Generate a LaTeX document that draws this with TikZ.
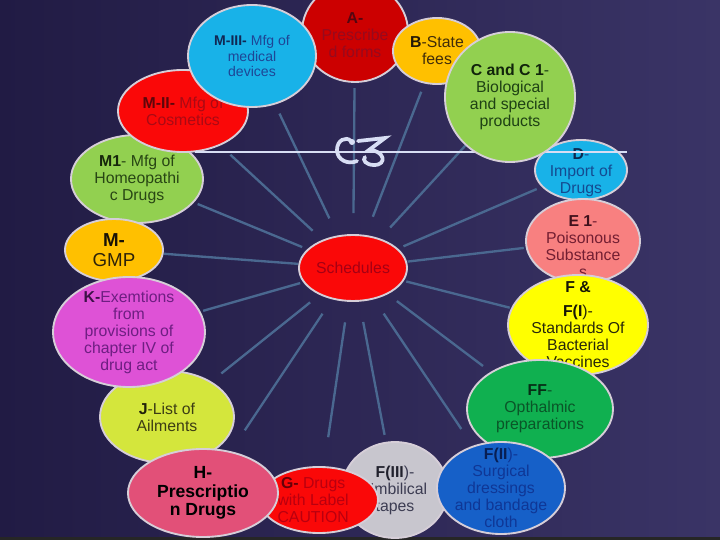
\documentclass[tikz,border=0pt]{standalone}
\usepackage{fontspec}
\setmainfont{Liberation Sans}
\usetikzlibrary{shapes.geometric, calc, backgrounds}
\definecolor{bgleft}{RGB}{33,27,68}
\definecolor{bgright}{RGB}{58,52,102}
\definecolor{spokeblue}{RGB}{74,104,144}
\definecolor{ruleline}{RGB}{216,222,244}
\definecolor{ringgray}{RGB}{214,206,216}
\definecolor{skycyan}{RGB}{24,178,232}
\definecolor{brightred}{RGB}{250,8,8}
\definecolor{deepred}{RGB}{204,0,0}
\definecolor{leafgreen}{RGB}{146,208,80}
\definecolor{amber}{RGB}{255,192,0}
\definecolor{orchid}{RGB}{222,82,214}
\definecolor{limey}{RGB}{212,230,60}
\definecolor{rosy}{RGB}{226,80,120}
\definecolor{silvery}{RGB}{200,198,206}
\definecolor{royal}{RGB}{22,96,200}
\definecolor{emerald}{RGB}{16,176,80}
\definecolor{lemon}{RGB}{255,255,0}
\definecolor{salmony}{RGB}{248,128,128}
\definecolor{txtA}{RGB}{150,10,30}
\definecolor{txtMthree}{RGB}{30,70,150}
\definecolor{txtMtwo}{RGB}{170,10,20}
\definecolor{txtMone}{RGB}{40,70,20}
\definecolor{txtGmp}{RGB}{45,35,10}
\definecolor{txtK}{RGB}{110,30,130}
\definecolor{txtJ}{RGB}{60,60,20}
\definecolor{txtG}{RGB}{185,0,15}
\definecolor{txtFthree}{RGB}{60,60,82}
\definecolor{txtFtwo}{RGB}{15,55,150}
\definecolor{txtFF}{RGB}{10,85,40}
\definecolor{txtFone}{RGB}{40,40,10}
\definecolor{txtE}{RGB}{115,30,50}
\definecolor{txtD}{RGB}{20,75,145}
\definecolor{txtC}{RGB}{30,65,20}
\definecolor{txtB}{RGB}{65,45,10}
\definecolor{txtSched}{RGB}{165,0,20}
\newcommand{\hd}[1]{{\bfseries\color{.!55!black}#1}}

\begin{document}
\begin{tikzpicture}[
    x=0.03cm, y=-0.03cm,
    disc/.style 2 args={
        ellipse, draw=ringgray, line width=1.6pt,
        inner sep=0pt,
        minimum width=#1*0.8536pt,
        minimum height=#2*0.8536pt
    },
    lbl/.style={
        font=\fontsize{13.5}{14.5}\selectfont,
        align=center, inner sep=0pt
    },
    spoke/.style={draw=spokeblue, line width=2pt},
    ornament/.style={draw=ruleline, line width=3.2pt, line cap=round}
]
\useasboundingbox (0,0) rectangle (720,540);

\node[disc={132}{88}, fill=leafgreen,
    label={[lbl, text=txtMone]center:{\hd{M1}- Mfg of\\Homeopathi\\c Drugs}}]
    (m1) at (137,179) {};
\node[disc={98}{62}, fill=amber,
    label={[lbl, text=txtGmp, font=\fontsize{16}{17}\selectfont]center:{\hd{M-}\\GMP}}]
    (mgmp) at (114,250) {};
\node[disc={134}{92}, fill=limey,
    label={[lbl, text=txtJ]center:{\hd{J}-List of\\Ailments}}]
    (j) at (167,417) {};
\node[disc={152}{110}, fill=orchid,
    label={[lbl, text=txtK]center:{\hd{K-}Exemtions\\from\\provisions of\\chapter IV of\\drug act}}]
    (k) at (129,332) {};
\node[disc={106}{100}, fill=deepred,
    label={[lbl, text=txtA, yshift=-2.5pt]center:{\hd{A-}\\Prescribe\\d forms}}]
    (a) at (355,32) {};
\node[disc={130}{82}, fill=brightred,
    label={[lbl, text=txtMtwo]center:{\hd{M-II-} Mfg of\\Cosmetics}}]
    (m2) at (183,111) {};
\node[disc={128}{102}, fill=skycyan,
    label={[lbl, text=txtMthree, font=\fontsize{12}{13.2}\selectfont]center:{\hd{M-III-} Mfg of\\medical\\devices}}]
    (m3) at (252,56) {};
\node[disc={88}{66}, fill=amber,
    label={[lbl, text=txtB]center:{\hd{B}-State\\fees}}]
    (b) at (437,51) {};
\node[disc={92}{60}, fill=skycyan,
    label={[lbl, text=txtD, yshift=-2.5pt]center:{\hd{D}-\\Import of\\Drugs}}]
    (d) at (581,170) {};

\draw[draw=ruleline, line width=1.6pt] (195,152) -- (627,152);
\draw[ornament] (351,141) .. controls (346,136) and (337,140) .. (337,150)
    .. controls (337,160) and (348,165) .. (357,161);
\fill[ruleline] (352,142) circle (3);
\draw[ornament] (358,141) -- (385,138) -- (369,150)
    .. controls (384,150) and (388,165) .. (374,165)
    .. controls (366,165) and (362,160) .. (365,157);

\node[disc={130}{130}, fill=leafgreen,
    label={[lbl, text=txtC]center:{\hd{C and C 1}-\\Biological\\and special\\products}}]
    (c) at (510,97) {};
\node[disc={114}{84}, fill=salmony,
    label={[lbl, text=txtE, yshift=-5pt]center:{\hd{E 1}-\\Poisonous\\Substance\\s}}]
    (e1) at (583,241) {};
\node[disc={140}{100}, fill=lemon,
    label={[lbl, text=txtFone]center:{\hd{F \&}\\[6pt]\hd{F(I})-\\Standards Of\\Bacterial\\Vaccines}}]
    (f1) at (578,325) {};
\node[disc={146}{98}, fill=emerald,
    label={[lbl, text=txtFF]center:{\hd{FF}-\\Opthalmic\\preparations}}]
    (ff) at (540,409) {};
\node[disc={106}{96}, fill=silvery,
    label={[lbl, text=txtFthree]center:{\hd{F(III})-\\Umbilical\\tapes}}]
    (f3) at (395,490) {};
\node[disc={128}{92}, fill=royal,
    label={[lbl, text=txtFtwo]center:{\hd{F(II})-\\Surgical\\dressings\\and bandage\\cloth}}]
    (f2) at (501,488) {};
\node[disc={118}{66}, fill=brightred,
    label={[lbl, text=txtG, xshift=-5pt]center:{\hd{G-} Drugs\\with Label\\CAUTION}}]
    (g) at (319,500) {};
\node[disc={150}{88}, fill=rosy,
    label={[lbl, text=black, font=\fontsize{15}{15.8}\selectfont\bfseries]center:{H-\\Prescriptio\\n Drugs}}]
    (h) at (203,493) {};
\node[disc={108}{66}, fill=brightred,
    label={[lbl, text=txtSched]center:{Schedules}}]
    (sched) at (353,268) {};

\begin{scope}[on background layer]
\shade[left color=bgleft, right color=bgright] (0,0) rectangle (720,540);
\fill[black!85] (0,537) rectangle (720,540);
\foreach \n/\len in {a/153.6pt, m3/146pt, m2/142.5pt, m1/143.4pt,
                     mgmp/162pt, k/133pt, j/144pt, h/166.5pt,
                     g/146pt, f3/145pt, f2/165.6pt, ff/139pt,
                     f1/138pt, e1/146.8pt, d/170.7pt, c/141.7pt, b/161.3pt}{
    \draw[spoke] ($(sched.center)!46.9pt!(\n.center)$)
        -- ($(sched.center)!\len!(\n.center)$);
}
\end{scope}
\end{tikzpicture}
\end{document}
